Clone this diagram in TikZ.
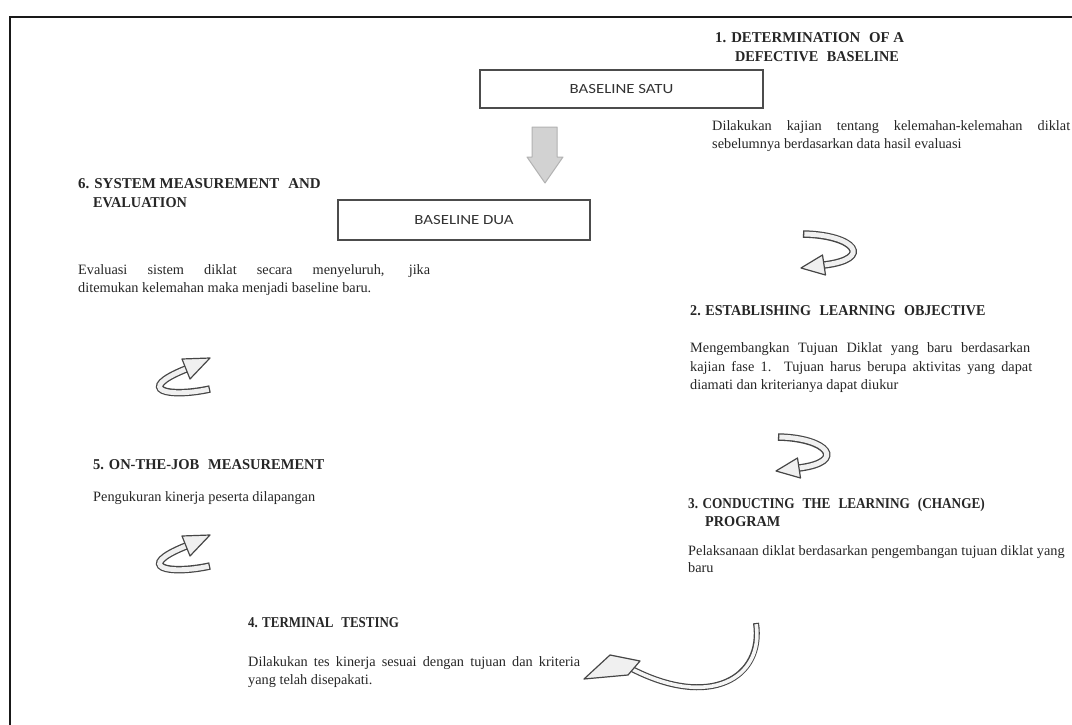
\documentclass[tikz,border=0pt]{standalone}
\usepackage{graphicx}
\usepackage{fontspec}
\setmainfont{Liberation Serif}
\newfontfamily\headfont{Liberation Serif}[FakeStretch=0.95]
\newfontfamily\boxfont{Carlito}[FakeStretch=1.2]
\newcommand{\dsp}{\hspace{5pt}}
\begin{document}
\begin{tikzpicture}[x=1pt,y=-1pt,
  head/.style={font=\headfont\fontsize{15}{18}\selectfont\bfseries, text=black!85, anchor=base west, inner sep=0pt},
  body/.style={font=\fontsize{14.3}{17}\selectfont, text=black!85, anchor=base west, inner sep=0pt},
  basebox/.style={draw=gray!60!black, line width=1.3pt, fill=white, font=\boxfont\fontsize{14}{16}\selectfont, text=black!80, inner sep=0pt},
  bandout/.style={line width=7.5pt, draw=gray!55!black},
  bandin/.style={line width=4.9pt, draw=gray!12, shorten <=1.3pt},
  thinout/.style={line width=6pt, draw=gray!55!black},
  thinin/.style={line width=3.6pt, draw=gray!8, shorten <=1.2pt},
  arrowhd/.style={fill=gray!12, draw=gray!55!black, line width=1.2pt, line join=round}
]
\useasboundingbox (0,0) rectangle (1072,725);
\fill[white] (0,0) rectangle (1072,725);
% frame
\draw[line width=2.6pt, black!90] (10,727) -- (10,17) -- (1074,17);

% boxes
\node[basebox, minimum width=283pt, minimum height=38pt] (satu) at (621.5,89) {BASELINE SATU};
\node[basebox, minimum width=252pt, minimum height=40pt] (dua) at (464,220) {BASELINE DUA};

% down block arrow
\filldraw[fill=gray!35, draw=gray!60, line width=1pt, line join=round]
  (532,127) -- (557,127) -- (557,157) -- (563,157) -- (545,183) -- (527,157) -- (532,157) -- cycle;

% phase 1
\node[head] (h1a) at (715,43) {\scalebox{1.04}[1]{1. DETERMINATION\dsp{} OF A}};
\node[head] (h1b) at (735,62) {DEFECTIVE\dsp{} BASELINE};
\node[body] (t1a) at (712,131) {\makebox[358pt][s]{Dilakukan kajian tentang kelemahan-kelemahan diklat}};
\node[body] (t1b) at (712,149) {sebelumnya berdasarkan data hasil evaluasi};

% phase 6
\node[head] (h6a) at (78,188) {\scalebox{1.05}[1]{6. SYSTEM MEASUREMENT\dsp{} AND}};
\node[head] (h6b) at (93,207) {EVALUATION};
\node[body] (t6a) at (78,274) {\makebox[352pt][s]{Evaluasi sistem diklat secara menyeluruh, jika}};
\node[body] (t6b) at (78,292) {ditemukan kelemahan maka menjadi baseline baru.};

% phase 2
\node[head] (h2) at (690,315) {\scalebox{0.99}[1]{2. ESTABLISHING\dsp{} LEARNING\dsp{} OBJECTIVE}};
\node[body] (t2a) at (690,352) {\makebox[340pt][s]{Mengembangkan Tujuan Diklat yang baru berdasarkan}};
\node[body] (t2b) at (690,371) {\makebox[342pt][s]{kajian fase 1. Tujuan harus berupa aktivitas yang dapat}};
\node[body] (t2c) at (690,389) {diamati dan kriterianya dapat diukur};

% phase 5
\node[head] (h5) at (93,469) {\scalebox{1.02}[1]{5. ON-THE-JOB\dsp{} MEASUREMENT}};
\node[body] (t5) at (93,501) {Pengukuran kinerja peserta dilapangan};

% phase 3
\node[head] (h3a) at (688,508) {\scalebox{0.93}[1]{3. CONDUCTING\dsp{} THE\dsp{} LEARNING\dsp{} (CHANGE)}};
\node[head] (h3b) at (705,526) {PROGRAM};
\node[body] (t3a) at (688,555) {Pelaksanaan diklat berdasarkan pengembangan tujuan diklat yang};
\node[body] (t3b) at (688,572) {baru};

% phase 4
\node[head] (h4) at (248,627) {\scalebox{0.91}[1]{4. TERMINAL\dsp{} TESTING}};
\node[body] (t4a) at (248,666) {\makebox[332pt][s]{Dilakukan tes kinerja sesuai dengan tujuan dan kriteria}};
\node[body] (t4b) at (248,684) {yang telah disepakati.};

% curved arrow right 1
\draw[bandout] (803,234) .. controls (855,235) and (874,259) .. (824,265);
\draw[bandin] (803,234) .. controls (855,235) and (874,259) .. (824,265);
\draw[arrowhd] (822.5,255) -- (801,268) -- (825.5,275) -- cycle;

% curved arrow right 2
\draw[bandout] (778,437) .. controls (828,438) and (847,462) .. (799,468);
\draw[bandin] (778,437) .. controls (828,438) and (847,462) .. (799,468);
\draw[arrowhd] (797.5,458) -- (776,471) -- (800.5,478) -- cycle;

% curved arrow left 1
\draw[bandout] (210,389) .. controls (168,398) and (134,390) .. (186,369);
\draw[bandin] (210,389) .. controls (168,398) and (134,390) .. (186,369);
\draw[arrowhd] (190,379) -- (210,358) -- (182,359) -- cycle;

% curved arrow left 2
\draw[bandout] (210,566) .. controls (168,575) and (134,567) .. (186,546);
\draw[bandin] (210,566) .. controls (168,575) and (134,567) .. (186,546);
\draw[arrowhd] (190,556) -- (210,535) -- (182,536) -- cycle;

% big curved arrow
\draw[thinout] (756,623) .. controls (764,678) and (710,710) .. (630,668);
\draw[thinin] (756,623) .. controls (764,678) and (710,710) .. (630,668);
\draw[arrowhd] (584,679) -- (610,655) -- (640,661) -- (628,675) -- cycle;
\end{tikzpicture}
\end{document}
